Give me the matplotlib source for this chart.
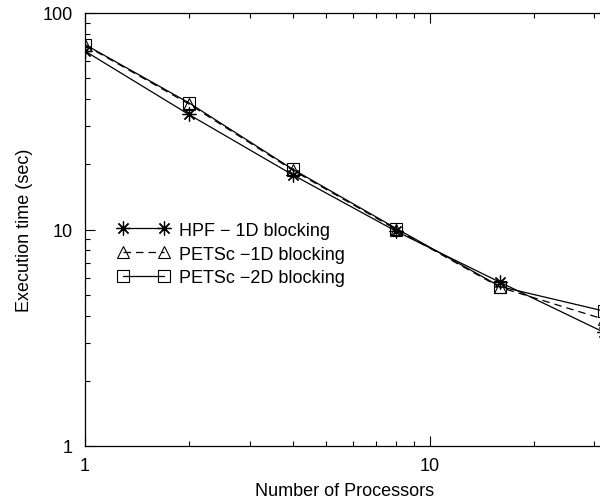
import numpy as np
import matplotlib
matplotlib.use('Agg')
import matplotlib.pyplot as plt
from matplotlib.ticker import FuncFormatter

plt.rcParams['font.family'] = ['Liberation Sans', 'DejaVu Sans']

# dati
procs = [1, 2, 4, 8, 16, 32]
hpf_1d = [66.7, 34.0, 17.9, 9.8, 5.7, 3.35]
petsc_1d = [71.0, 38.0, 18.8, 10.0, 5.4, 3.85]
petsc_2d = [71.5, 38.5, 19.0, 10.1, 5.45, 4.2]

fig = plt.figure(figsize=(6.0, 5.02), dpi=100)
ax = fig.add_axes([85 / 600, 55 / 502, 519 / 600, 433 / 502])

ax.plot(procs, hpf_1d, color='black', lw=0.9, marker=(8, 2, 0), ms=10,
        mew=0.9, label='HPF \u2212 1D blocking')
ax.plot(procs, petsc_1d, color='black', lw=0.9, ls=(0, (6, 4)), marker='^', ms=9,
        mfc='none', mew=0.8, label='PETSc \u22121D blocking')
ax.plot(procs, petsc_2d, color='black', lw=0.9, marker='s', ms=9,
        mfc='none', mew=0.8, label='PETSc \u22122D blocking')

ax.set_xscale('log')
ax.set_yscale('log')
ax.set_xlim(1, 32)
ax.set_ylim(1, 100)

fmt = FuncFormatter(lambda v, p: '%g' % v)
ax.xaxis.set_major_formatter(fmt)
ax.yaxis.set_major_formatter(fmt)
ax.tick_params(which='both', direction='in', top=True, right=False, labelsize=13)
ax.tick_params(axis='y', pad=9)
ax.tick_params(axis='x', pad=8)
ax.tick_params(which='major', length=7, width=0.8)
ax.tick_params(which='minor', length=3.5, width=0.8)
for s in ax.spines.values():
    s.set_linewidth(0.9)

ax.set_xlabel('Number of Processors', fontsize=13, labelpad=6)
ax.set_ylabel('Execution time (sec)', fontsize=13, labelpad=7)

ax.legend(loc='upper left', bbox_to_anchor=(0.062, 0.518), frameon=False, numpoints=2,
          handlelength=2.9, handletextpad=0.5, labelspacing=0.38, fontsize=13,
          borderaxespad=0, borderpad=0)

fig.savefig('out.png', dpi=100)
